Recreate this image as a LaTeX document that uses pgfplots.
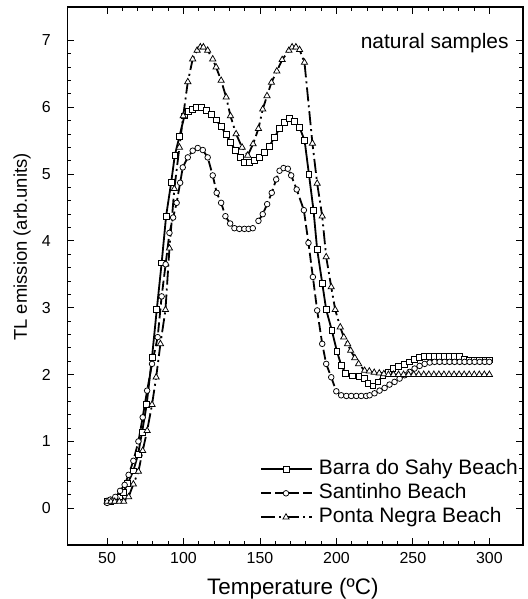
\documentclass[border=0pt]{standalone}
\usepackage{fontspec}
\setmainfont{Liberation Sans}
\usepackage{pgfplots}
\pgfplotsset{compat=1.18}

\begin{document}
\begin{tikzpicture}
\path[use as bounding box] (-67.3bp,-54bp) rectangle (460.7bp,545bp);
\begin{axis}[
  scale only axis, width=455.7bp, height=538bp,
  anchor=south west, at={(0,0)},
  xmin=24, xmax=322, ymin=-0.55, ymax=7.5,
  xtick={50,100,...,300}, ytick={0,1,...,7},
  minor x tick num=4, minor y tick num=4,
  tick pos=both, tick align=inside,
  major tick length=7bp, minor tick length=4bp,
  axis line style={line width=1.1bp},
  every tick/.style={black, line width=0.9bp},
  /pgf/number format/assume math mode=true,
  tick label style={font=\fontsize{16}{19}\selectfont},
  yticklabel style={xshift=-13bp},
  xticklabel style={yshift=-4bp},
  xlabel={Temperature (ºC)},
  ylabel={TL emission (arb.units)},
  xlabel style={at={(axis description cs:0.495,-0.0911)}, anchor=base, font=\fontsize{22.5}{26}\selectfont},
  ylabel style={at={(axis description cs:-0.0994,0.554)}, anchor=center, font=\fontsize{18.5}{22}\selectfont},
  legend style={draw=none, fill=none, inner sep=0bp, at={(axis description cs:0.989,0.0316)}, anchor=south east,
    font=\fontsize{21}{24}\selectfont, row sep=3bp,
    nodes={inner sep=0bp, text height=16bp, text depth=5bp},
    /tikz/every odd column/.append style={column sep=6bp}},
  legend cell align=left,
  legend image code/.code={\draw[mark repeat=2,mark phase=2] plot coordinates {(0bp,0bp) (25bp,0bp) (51bp,0bp)};},
  every axis plot/.append style={black, line width=1.8bp, mark options={solid, fill=white, line width=0.75bp}},
]
\addplot[mark=square*, mark size=2.9bp] coordinates {
(50,0.10)(52,0.10)(54.8,0.12)(58,0.17)(60.7,0.24)(63.5,0.37)(67.2,0.56)(70.3,0.81)(72.9,1.14)(75.9,1.55)
(79.4,2.26)(82.5,2.97)(85.7,3.67)(88.6,4.37)(91.9,4.87)(94.3,5.28)(97.3,5.56)(100.6,5.87)(103.4,5.94)(106,5.97)
(108.5,6.0)(111.5,6.0)(114.8,5.95)(118,5.89)(121.3,5.81)(124.6,5.71)(127.9,5.59)(130.7,5.48)(134,5.35)(137,5.25)
(140,5.18)(143,5.17)(146.5,5.2)(149.7,5.25)(153,5.33)(156.2,5.42)(159.5,5.55)(162.8,5.68)(166,5.77)(169.3,5.83)
(172.6,5.79)(175.9,5.7)(179.2,5.5)(182,5.0)(185,4.46)(187.4,3.87)(190.7,3.37)(193.3,2.97)(197,2.66)(200.3,2.35)
(203.1,2.14)(206,2.02)(210.3,1.98)(214.7,1.97)(218.4,1.94)(220.5,1.87)(223.8,1.83)(227.1,1.89)(230.4,1.99)(233.7,2.04)
(236.9,2.09)(240.5,2.12)(244.6,2.15)(247.8,2.19)(251.1,2.23)(254.4,2.26)(257.7,2.27)(261,2.27)(264.2,2.27)(267.5,2.27)
(270.8,2.27)(274,2.27)(277.3,2.27)(280.6,2.27)(283.8,2.23)(287.1,2.22)(290.4,2.22)(293.7,2.22)(297,2.22)(300,2.22)
};
\addlegendentry{Barra do Sahy Beach}
\addplot[mark=*, mark size=2.8bp, dash pattern=on 10bp off 4bp] coordinates {
(50,0.08)(52.2,0.13)(55.4,0.17)(58.5,0.26)(61.5,0.35)(64.1,0.5)(67.2,0.71)(70.5,1.0)(73.3,1.36)(76.2,1.76)
(79.4,2.16)(83.1,2.56)(85.7,3.17)(88.3,3.65)(90.8,4.12)(93.2,4.35)(95.5,4.57)(97.8,4.87)(99.5,5.1)(102.8,5.25)
(106,5.35)(109.3,5.39)(112.6,5.36)(115.8,5.25)(119.1,4.98)(121.7,4.72)(124.6,4.57)(127.4,4.37)(130.5,4.26)(133.3,4.19)
(136.5,4.18)(139.8,4.18)(142.6,4.18)(145.3,4.19)(149,4.3)(151.8,4.4)(154.7,4.55)(157.7,4.72)(160.6,4.92)(162.8,5.05)
(165.4,5.09)(168.2,5.08)(170.4,4.98)(174,4.77)(178.7,4.46)(181.7,3.97)(184.6,3.46)(187.4,2.96)(190.7,2.46)(193.3,2.16)
(196.6,1.96)(199.9,1.75)(203.1,1.69)(206.5,1.68)(209.7,1.68)(213,1.68)(216.2,1.68)(219.5,1.68)(221.7,1.69)(224.9,1.72)
(228.2,1.76)(231.5,1.8)(234.7,1.85)(238,1.89)(241.3,1.94)(244.6,1.99)(247.8,2.04)(251.1,2.09)(254.4,2.13)(257.7,2.16)
(261,2.18)(264.2,2.19)(267.5,2.19)(270.8,2.19)(274,2.19)(277.3,2.19)(280.6,2.19)(283.8,2.19)(287.1,2.19)(290.4,2.19)
(293.7,2.19)(297,2.19)(300,2.19)
};
\addlegendentry{Santinho Beach}
\addplot[mark=triangle*, mark size=3.6bp, dash pattern=on 14bp off 4bp on 2bp off 4bp] coordinates {
(50,0.1)(52.5,0.1)(55,0.1)(58,0.1)(60.9,0.1)(64.1,0.17)(67.2,0.36)(70.5,0.55)(73.3,0.86)(76.2,1.16)
(79.4,1.55)(82.1,1.96)(84.9,2.46)(88.2,2.97)(90.8,3.89)(94,4.78)(97.3,5.4)(99.8,5.87)(102.8,6.38)(106,6.72)
(108.9,6.85)(111,6.9)(113,6.9)(115.8,6.85)(119.1,6.72)(121.3,6.6)(124.6,6.4)(127.9,6.15)(130.7,5.87)(134.4,5.6)
(138.3,5.4)(142,5.28)(145.5,5.45)(149,5.68)(151.8,5.97)(154.6,6.17)(157.5,6.37)(161,6.54)(164.5,6.71)(168.9,6.85)
(171,6.9)(173.5,6.9)(175.9,6.86)(179.1,6.67)(184.3,5.46)(187.4,4.86)(190.7,4.37)(193.3,3.76)(196.6,3.31)(199.2,2.97)
(202.5,2.71)(204.8,2.56)(207.3,2.46)(209.3,2.36)(212,2.25)(214.5,2.16)(218.4,2.06)(221.5,2.05)(224.7,2.03)(228,2.02)
(231,2.01)(234,2.0)(237.3,2.0)(240.6,2.0)(243.9,2.0)(247.2,2.0)(250.5,2.0)(253.8,2.0)(257.1,2.0)(260.4,2.0)
(263.7,2.0)(267,2.0)(270.3,2.0)(273.6,2.0)(276.9,2.0)(280.2,2.0)(283.5,2.0)(286.8,2.0)(290.1,2.0)(293.4,2.0)
(296.7,2.0)(300,2.0)
};
\addlegendentry{Ponta Negra Beach}
\node[anchor=base east, font=\fontsize{21}{24}\selectfont] at (axis description cs:0.976,0.922) {natural samples};
\end{axis}
\end{tikzpicture}
\end{document}
